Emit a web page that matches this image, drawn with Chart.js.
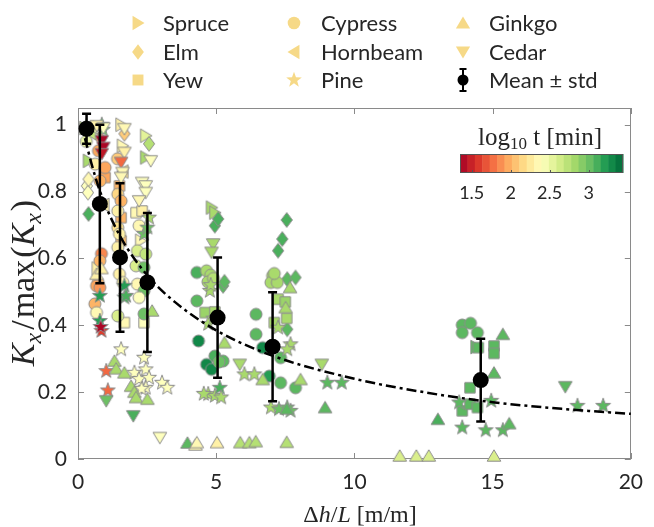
<!DOCTYPE html>
<html><head><meta charset="utf-8">
<style>html,body{margin:0;padding:0;background:#fff}#c{display:block}</style>
<script src="https://cdn.jsdelivr.net/npm/chart.js@4.4.0/dist/chart.umd.min.js"></script>
</head><body>
<canvas id="c" width="654" height="527"></canvas>
<script>
// ---------------- DATA ----------------
const spruceX = [0.25, 0.38, 0.70, 1.56, 1.61, 2.27, 2.45, 2.45, 4.83, 4.95, 14.40];
const spruceY = [0.99, 0.892, 0.57, 1.00, 0.937, 0.653, 0.967, 0.902, 0.752, 0.737, 0.335];
const spruceT = [2.7, 2.8, 2.3, 2.3, 2.35, 2.35, 2.55, 2.8, 2.8, 2.8, 3.05];

const elmX = [0.28, 0.48, 0.32, 0.36, 0.38, 0.38, 0.80, 1.68, 2.57, 4.95, 5.07, 5.25, 5.30, 7.24, 7.39, 7.55, 7.57, 7.57, 7.87];
const elmY = [0.99, 0.99, 0.817, 0.797, 0.837, 0.733, 0.96, 0.973, 0.943, 0.698, 0.718, 0.518, 0.53, 0.623, 0.658, 0.715, 0.538, 0.388, 0.543];
const elmT = [2.45, 2.6, 2.4, 2.4, 2.35, 3.1, 1.9, 2.1, 2.75, 3.1, 3.1, 3.05, 3.05, 3.1, 3.1, 3.1, 3.05, 3.05, 3.05];

const yewX = [0.98, 1.50, 1.56, 1.56, 1.68, 2.10, 2.32, 2.39, 4.60, 4.95, 7.10, 7.24, 7.50, 7.55, 13.90, 14.18, 14.18, 14.45, 14.48, 15.05, 15.05];
const yewY = [0.842, 0.817, 0.722, 0.653, 0.408, 0.737, 0.742, 0.408, 0.438, 0.44, 0.408, 0.478, 0.47, 0.421, 0.144, 0.213, 0.164, 0.154, 0.333, 0.338, 0.316];
const yewT = [1.95, 2.0, 2.0, 2.05, 2.35, 2.35, 2.3, 2.4, 2.85, 2.8, 2.8, 2.8, 2.85, 2.8, 3.05, 3.05, 3.05, 3.05, 3.05, 3.05, 3.05];

const cypressX = [0.30, 0.62, 0.74, 0.80, 0.98, 0.85, 0.79, 0.73, 0.67, 0.61, 0.67, 0.79,
  1.43, 1.44, 1.56, 1.44, 1.44, 1.50, 1.44, 1.50, 1.62, 1.44,
  2.21, 2.15, 2.45, 2.10, 2.39, 2.15, 2.39, 2.21, 2.39,
  4.30, 4.65, 4.80, 4.70, 4.90, 4.30, 4.36, 4.95, 4.65, 4.83, 5.25, 5.10,
  7.04, 6.98, 7.21, 7.10, 6.44, 6.44, 7.33, 6.68, 6.92, 7.33, 7.87,
  13.90, 14.20, 13.90, 14.45];
const cypressY = [0.95, 0.882, 0.922, 0.832, 0.872, 0.614, 0.593, 0.528, 0.518, 0.464, 0.438, 0.513,
  0.898, 0.792, 0.772, 0.742, 0.692, 0.673, 0.633, 0.553, 0.528, 0.428,
  0.698, 0.623, 0.613, 0.578, 0.573, 0.523, 0.503, 0.483, 0.434,
  0.558, 0.563, 0.55, 0.53, 0.54, 0.473, 0.353, 0.308, 0.283, 0.268, 0.293, 0.29,
  0.548, 0.528, 0.528, 0.555, 0.433, 0.373, 0.303, 0.333, 0.248, 0.228, 0.213,
  0.401, 0.406, 0.378, 0.378];
const cypressT = [2.5, 2.3, 1.95, 2.0, 1.95, 1.85, 2.0, 2.0, 1.95, 2.0, 2.35, 1.9,
  2.1, 2.15, 2.0, 2.3, 2.2, 2.3, 2.3, 2.3, 2.35, 2.6,
  2.35, 2.6, 2.7, 2.6, 3.0, 2.35, 3.0, 2.4, 3.0,
  3.1, 2.8, 2.8, 2.8, 2.75, 3.05, 3.3, 3.1, 3.3, 3.3, 3.05, 3.0,
  2.8, 2.8, 2.8, 2.8, 3.05, 3.05, 3.05, 3.3, 3.2, 3.05, 3.05,
  3.05, 3.05, 3.05, 3.05];

const hornbeamX = [0.45, 0.93, 1.62];
const hornbeamY = [0.975, 0.76, 0.86];
const hornbeamT = [2.7, 2.3, 2.2];

const pineX = [0.30, 0.55, 0.90, 0.86, 0.79, 0.79, 0.85, 0.82, 1.02, 1.08, 1.68, 1.68, 1.74, 2.39, 2.57, 2.51,
  1.56, 2.04, 2.39, 2.21, 2.45, 2.57, 2.45, 3.04, 3.23, 2.30,
  4.77, 4.71, 4.90, 6.02, 4.71, 4.95, 5.13, 5.18, 4.55, 4.80,
  7.24, 7.69, 7.57, 6.38, 6.98, 7.27, 7.57, 7.69, 9.02, 9.54,
  13.79, 14.95, 13.90, 14.75, 15.37, 18.07, 19.00];
const pineY = [0.995, 0.99, 0.985, 1.0, 0.488, 0.413, 0.383, 0.395, 0.263, 0.205, 0.483, 0.518, 0.488, 0.673, 0.722, 0.692,
  0.328, 0.258, 0.303, 0.239, 0.268, 0.243, 0.213, 0.228, 0.213, 0.21,
  0.503, 0.404, 0.42, 0.253, 0.194, 0.189, 0.213, 0.184, 0.195, 0.52,
  0.393, 0.343, 0.328, 0.253, 0.154, 0.149, 0.154, 0.144, 0.228, 0.228,
  0.169, 0.174, 0.094, 0.086, 0.086, 0.159, 0.159];
const pineT = [2.6, 2.5, 3.0, 3.1, 3.2, 3.2, 1.6, 1.38, 1.75, 1.75, 3.1, 3.2, 3.1, 3.0, 2.8, 3.0,
  2.4, 2.4, 2.4, 2.4, 2.4, 2.4, 2.4, 2.4, 2.4, 2.4,
  2.8, 2.8, 2.8, 2.8, 2.8, 2.8, 3.1, 2.8, 2.8, 2.8,
  2.8, 2.8, 2.8, 2.8, 2.8, 3.0, 3.0, 3.0, 3.05, 3.05,
  3.05, 3.05, 3.05, 3.05, 3.05, 3.05, 3.05];

const ginkgoX = [0.67, 0.85, 1.32, 1.38, 1.68, 1.92, 2.04, 2.10, 2.51, 2.68, 5.30,
  3.96, 4.25, 4.30, 5.03, 5.87, 6.20, 6.43, 7.55,
  7.67, 7.51, 8.05, 6.68, 8.94, 7.55,
  15.37, 15.05, 13.02, 15.60, 11.64, 12.24, 12.69, 15.05];
const ginkgoY = [0.553, 0.57, 0.293, 0.27, 0.258, 0.218, 0.2, 0.184, 0.179, 0.443, 0.348,
  0.048, 0.042, 0.049, 0.049, 0.049, 0.049, 0.052, 0.05,
  0.513, 0.453, 0.238, 0.238, 0.154, 0.15,
  0.373, 0.258, 0.119, 0.106, 0.009, 0.009, 0.009, 0.009];
const ginkgoT = [2.3, 2.3, 2.8, 2.8, 2.8, 2.8, 2.8, 2.8, 2.8, 2.8, 2.8,
  3.05, 2.35, 2.35, 2.3, 2.75, 2.75, 2.75, 2.75,
  2.8, 2.8, 2.8, 2.8, 3.05, 3.05,
  3.05, 3.05, 3.1, 3.05, 2.6, 2.6, 2.6, 2.6];

const cedarX = [0.86, 0.92, 0.86, 0.68, 0.92, 1.02, 1.68, 1.68, 1.56, 1.61, 1.56,
  2.63, 2.32, 2.45, 2.45, 2.21, 2.00, 2.96, 4.89, 4.83, 5.85, 8.82, 17.63];
const cedarY = [0.952, 0.932, 0.913, 0.997, 0.99, 0.174, 0.988, 0.917, 0.887, 0.857, 0.842,
  0.892, 0.827, 0.817, 0.797, 0.772, 0.129, 0.064, 0.643, 0.618, 0.283, 0.283, 0.216];
const cedarT = [1.38, 1.38, 1.45, 2.3, 2.4, 3.0, 2.35, 2.3, 1.75, 2.35, 2.35,
  2.4, 2.4, 2.4, 2.4, 2.35, 3.1, 2.4, 2.8, 2.8, 2.8, 2.8, 3.05];

const meanX = [0.31, 0.79, 1.52, 2.51, 5.05, 7.04, 14.57];
const meanY = [0.988, 0.763, 0.603, 0.528, 0.423, 0.336, 0.236];
const meanStd = [0.045, 0.237, 0.222, 0.208, 0.180, 0.163, 0.124];

const fitX = [0.25, 0.5, 0.8, 1.5, 2.5, 3.5, 5, 7, 10, 12.5, 15, 17.5, 20];
const fitY = [0.96, 0.88, 0.80, 0.67, 0.55, 0.47, 0.385, 0.31, 0.24, 0.20, 0.17, 0.15, 0.135];

const xTicks = [0, 5, 10, 15, 20];
const xTickLabels = ['0', '5', '10', '15', '20'];
const yTicks = [0, 0.2, 0.4, 0.6, 0.8, 1];
const yTickLabels = ['0', '0.2', '0.4', '0.6', '0.8', '1'];
const cbTicks = [1.5, 2, 2.5, 3];
const cbTickLabels = ['1.5', '2', '2.5', '3'];
const T_MIN = 1.35, T_MAX = 3.44;

// ---------------- STYLE ----------------
const SANS = 'Lato, "Liberation Sans", Arial, sans-serif';
const SERIF = '"Liberation Serif", "DejaVu Serif", serif';
const TXT = '#262626';
const EDGE = '#8c8c8c';
const AXIS = '#8a8a8a';
const LEGEND_FILL = '#f6d987';

const RDYLGN = ['#a50026','#d73027','#f46d43','#fdae61','#fee08b','#ffffbf','#d9ef8b','#a6d96a','#66bd63','#1a9850','#006837'];
function hex2rgb(h){return [parseInt(h.slice(1,3),16),parseInt(h.slice(3,5),16),parseInt(h.slice(5,7),16)];}
function cmapFrac(f){
  f = Math.max(0, Math.min(1, f));
  const p = f*(RDYLGN.length-1);
  const i = Math.min(Math.floor(p), RDYLGN.length-2);
  const r = p - i, a = hex2rgb(RDYLGN[i]), b = hex2rgb(RDYLGN[i+1]);
  return 'rgb(' + a.map((v,k)=>Math.round(v+(b[k]-v)*r)).join(',') + ')';
}
function cmap(t){ return cmapFrac((t - T_MIN)/(T_MAX - T_MIN)); }

const markerCache = {};
function marker(shape, fill, stroke, scale) {
  scale = scale || 1;
  const key = shape + '|' + fill + '|' + stroke + '|' + scale;
  if (markerCache[key]) return markerCache[key];
  const c = document.createElement('canvas'); c.width = 26; c.height = 26;
  const g = c.getContext('2d');
  g.translate(13, 13);
  g.scale(scale, scale);
  g.beginPath();
  switch (shape) {
    case 'circle': g.arc(0, 0, 6, 0, Math.PI*2); break;
    case 'square': g.rect(-5.2, -5.2, 10.4, 10.4); break;
    case 'diamond': g.moveTo(0,-7.4); g.lineTo(5.6,0); g.lineTo(0,7.4); g.lineTo(-5.6,0); g.closePath(); break;
    case 'up': g.moveTo(0,-6.2); g.lineTo(6.8,5.2); g.lineTo(-6.8,5.2); g.closePath(); break;
    case 'down': g.moveTo(0,6.2); g.lineTo(6.8,-5.2); g.lineTo(-6.8,-5.2); g.closePath(); break;
    case 'right': g.moveTo(6.2,0); g.lineTo(-5.2,-6.8); g.lineTo(-5.2,6.8); g.closePath(); break;
    case 'left': g.moveTo(-6.2,0); g.lineTo(5.2,-6.8); g.lineTo(5.2,6.8); g.closePath(); break;
    case 'star': {
      const R = 7.8, r = 3.2;
      for (let k = 0; k < 10; k++) {
        const ang = -Math.PI/2 + k*Math.PI/5, rr = (k % 2) ? r : R;
        const px = Math.cos(ang)*rr, py = Math.sin(ang)*rr;
        if (k === 0) g.moveTo(px, py); else g.lineTo(px, py);
      }
      g.closePath(); break;
    }
  }
  g.fillStyle = fill; g.fill();
  if (stroke) { g.lineWidth = 1/scale; g.strokeStyle = stroke; g.stroke(); }
  markerCache[key] = c;
  return c;
}

function species(label, shape, xs, ys, ts, order) {
  return {
    label, shape, order,
    data: xs.map((x, i) => ({x, y: ys[i]})),
    pointStyle: ts.map(t => marker(shape, cmap(t), EDGE)),
    pointRadius: 6, pointHoverRadius: 6, pointBorderWidth: 0,
    showLine: false, clip: false
  };
}

const datasets = [
  species('Spruce', 'right', spruceX, spruceY, spruceT, 10),
  species('Elm', 'diamond', elmX, elmY, elmT, 9),
  species('Yew', 'square', yewX, yewY, yewT, 8),
  species('Cypress', 'circle', cypressX, cypressY, cypressT, 7),
  species('Hornbeam', 'left', hornbeamX, hornbeamY, hornbeamT, 6),
  species('Pine', 'star', pineX, pineY, pineT, 5),
  species('Ginkgo', 'up', ginkgoX, ginkgoY, ginkgoT, 4),
  species('Cedar', 'down', cedarX, cedarY, cedarT, 3),
  { label: 'fit', shape: 'none', order: 1, data: fitX.map((x,i)=>({x, y: fitY[i]})),
    showLine: true, borderColor: '#000', borderWidth: 2.5, borderDash: [10,4,3,4],
    pointRadius: 0, cubicInterpolationMode: 'monotone', clip: false },
  { label: 'Mean ± std', shape: 'mean', order: 0, data: meanX.map((x,i)=>({x, y: meanY[i]})),
    pointRadius: 8, pointHoverRadius: 8, pointBackgroundColor: '#000', pointBorderWidth: 0,
    showLine: false, clip: false }
];

function drawRich(ctx, pieces, x, y, rot) {
  ctx.save(); ctx.translate(x, y); if (rot) ctx.rotate(rot);
  ctx.textBaseline = 'alphabetic'; ctx.textAlign = 'left'; ctx.fillStyle = TXT;
  let w = 0;
  pieces.forEach(p => { ctx.font = p.f; p.w = ctx.measureText(p.t).width + (p.sp || 0); w += p.w; });
  let cx = -w/2;
  pieces.forEach(p => { ctx.font = p.f; ctx.fillText(p.t, cx, p.dy || 0); cx += p.w; });
  ctx.restore();
}

const decor = {
  id: 'decor',
  beforeDatasetsDraw(chart) {
    const {ctx, chartArea: a, scales: {x, y}} = chart;
    ctx.save();
    ctx.strokeStyle = AXIS; ctx.lineWidth = 1;
    ctx.strokeRect(Math.round(a.left)+0.5, Math.round(a.top)+0.5, Math.round(a.right-a.left)-1, Math.round(a.bottom-a.top)-1);
    ctx.beginPath();
    const TL = 6;
    xTicks.forEach(v => { const px = Math.round(x.getPixelForValue(v))+0.5;
      ctx.moveTo(px, a.bottom); ctx.lineTo(px, a.bottom-TL);
      ctx.moveTo(px, a.top); ctx.lineTo(px, a.top+TL); });
    yTicks.forEach(v => { const py = Math.round(y.getPixelForValue(v))+0.5;
      ctx.moveTo(a.left, py); ctx.lineTo(a.left+TL, py);
      ctx.moveTo(a.right, py); ctx.lineTo(a.right-TL, py); });
    ctx.stroke();
    ctx.restore();
  },
  afterDatasetsDraw(chart) {
    const {ctx, scales: {x, y}} = chart;
    ctx.save();
    ctx.strokeStyle = '#000'; ctx.lineWidth = 2.5;
    ctx.beginPath();
    meanX.forEach((mx, i) => {
      const px = x.getPixelForValue(mx);
      const yt = y.getPixelForValue(meanY[i] + meanStd[i]);
      const yb = y.getPixelForValue(meanY[i] - meanStd[i]);
      ctx.moveTo(px, yt); ctx.lineTo(px, yb);
      ctx.moveTo(px-4.5, yt); ctx.lineTo(px+4.5, yt);
      ctx.moveTo(px-4.5, yb); ctx.lineTo(px+4.5, yb);
    });
    ctx.stroke();
    ctx.restore();
  },
  afterDraw(chart) {
    const ctx = chart.ctx;
    // axis titles
    drawRich(ctx, [
      {t:'K', f:'italic 34px '+SERIF}, {t:'x', f:'italic 24px '+SERIF, dy:7, sp:3},
      {t:'/', f:'34px '+SERIF, sp:2}, {t:'max', f:'34px '+SERIF, sp:2}, {t:'(', f:'34px '+SERIF},
      {t:'K', f:'italic 34px '+SERIF}, {t:'x', f:'italic 24px '+SERIF, dy:7, sp:2},
      {t:')', f:'34px '+SERIF}
    ], 34, 283, -Math.PI/2);
    drawRich(ctx, [
      {t:'Δ', f:'24px '+SERIF}, {t:'h', f:'italic 24px '+SERIF}, {t:'/', f:'24px '+SERIF},
      {t:'L', f:'italic 24px '+SERIF}, {t:' [m/m]', f:'24px '+SERIF}
    ], 360, 522, 0);

    // legend (3 columns)
    const colMX = [138, 294, 463], colTX = [163, 321, 489], rowY = [23, 52, 80];
    const items = chart.data.datasets.filter(d => d.shape !== 'none');
    const layout = [[0,0],[0,1],[0,2],[1,0],[1,1],[1,2],[2,0],[2,1],[2,2]];
    ctx.save();
    ctx.font = '22px ' + SANS; ctx.fillStyle = TXT; ctx.textBaseline = 'middle'; ctx.textAlign = 'left';
    items.forEach((d, i) => {
      const [c, r] = layout[i];
      const mx = colMX[c], my = rowY[r];
      if (d.shape === 'mean') {
        ctx.save(); ctx.strokeStyle = '#000'; ctx.lineWidth = 2;
        ctx.beginPath(); ctx.moveTo(mx, my-11); ctx.lineTo(mx, my+11);
        ctx.moveTo(mx-3.5, my-11); ctx.lineTo(mx+3.5, my-11);
        ctx.moveTo(mx-3.5, my+11); ctx.lineTo(mx+3.5, my+11); ctx.stroke();
        ctx.fillStyle = '#000'; ctx.beginPath(); ctx.arc(mx, my, 5.5, 0, Math.PI*2); ctx.fill();
        ctx.restore();
      } else {
        const m = marker(d.shape, LEGEND_FILL, null, 1.05);
        ctx.drawImage(m, mx - m.width/2, my - m.height/2);
      }
      ctx.fillText(d.label, colTX[c], my + 1);
    });
    ctx.restore();

    // colorbar
    const X0 = 460, X1 = 623, Y0 = 154, Y1 = 173, NB = 22;
    ctx.save();
    for (let k = 0; k < NB; k++) {
      const xa = X0 + (X1-X0)*k/NB, xb = X0 + (X1-X0)*(k+1)/NB;
      ctx.fillStyle = cmapFrac((k+0.5)/NB);
      ctx.fillRect(xa, Y0, xb - xa + 0.5, Y1 - Y0);
    }
    ctx.strokeStyle = '#555'; ctx.lineWidth = 1;
    ctx.strokeRect(X0+0.5, Y0+0.5, X1-X0-1, Y1-Y0-1);
    ctx.beginPath();
    const tp = t => X0 + (t - T_MIN)/(T_MAX - T_MIN)*(X1 - X0);
    cbTicks.forEach(t => { const px = Math.round(tp(t))+0.5; ctx.moveTo(px, Y1); ctx.lineTo(px, Y1-3); });
    ctx.stroke();
    ctx.font = '18px ' + SANS; ctx.fillStyle = TXT; ctx.textAlign = 'center'; ctx.textBaseline = 'middle';
    cbTicks.forEach((t, i) => ctx.fillText(cbTickLabels[i], tp(t), 193));
    ctx.restore();
    drawRich(ctx, [
      {t:'log', f:'25px '+SERIF}, {t:'10', f:'17px '+SERIF, dy:4}, {t:' t [min]', f:'25px '+SERIF}
    ], 540, 145, 0);
  }
};

new Chart(document.getElementById('c'), {
  type: 'scatter',
  data: { datasets },
  options: {
    responsive: false, animation: false, events: [],
    layout: { padding: { left: 0, right: 15, top: 108, bottom: 0 } },
    plugins: { legend: { display: false }, tooltip: { enabled: false }, title: { display: false } },
    scales: {
      x: {
        type: 'linear', min: 0, max: 20,
        afterBuildTicks: s => { s.ticks = xTicks.map(v => ({value: v})); },
        afterFit: s => { s.height = 68; },
        grid: { display: false, drawTicks: false },
        border: { display: false },
        ticks: { callback: (v, i) => xTickLabels[i], font: { size: 21, family: SANS }, color: TXT, padding: 11, maxRotation: 0, autoSkip: false }
      },
      y: {
        type: 'linear', min: 0, max: 1.05,
        afterBuildTicks: s => { s.ticks = yTicks.map(v => ({value: v})); },
        afterFit: s => { s.width = 78; },
        grid: { display: false, drawTicks: false },
        border: { display: false },
        ticks: { callback: (v, i) => yTickLabels[i], font: { size: 21, family: SANS }, color: TXT, padding: 11, autoSkip: false }
      }
    }
  },
  plugins: [decor]
});
</script>
</body></html>
